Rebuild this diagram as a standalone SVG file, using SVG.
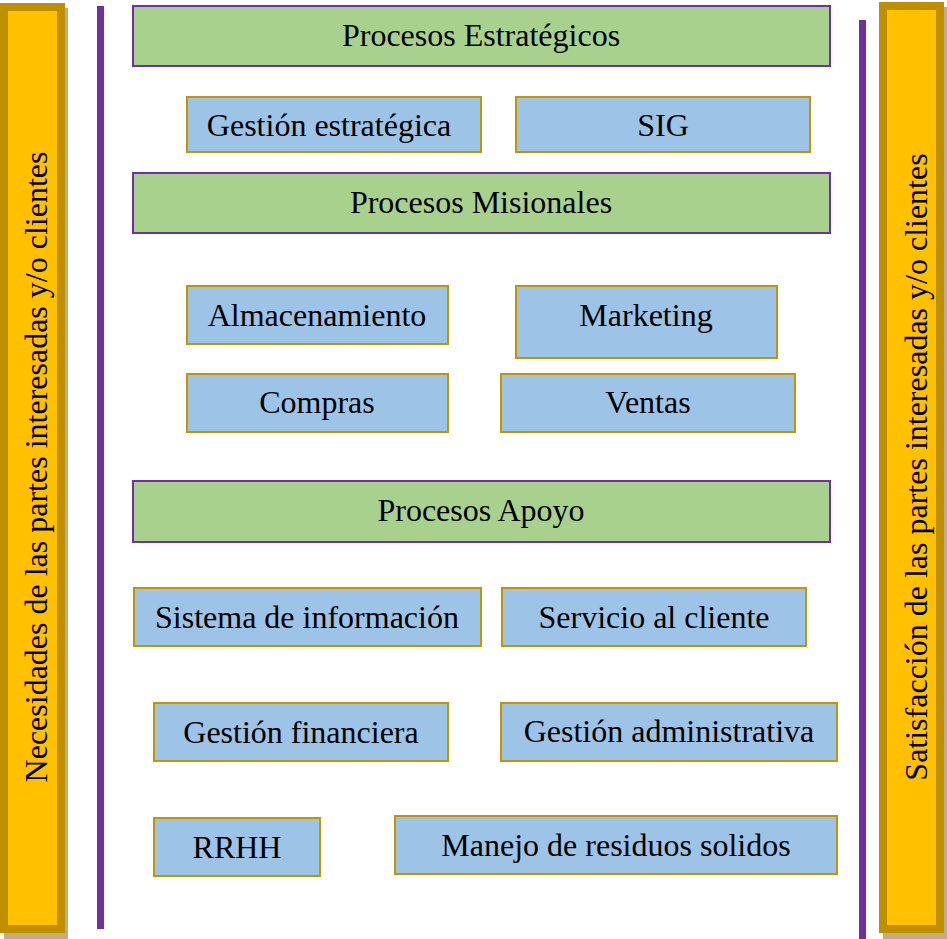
<svg xmlns="http://www.w3.org/2000/svg" width="947" height="939" viewBox="0 0 947 939">
<style>
  .bar { fill: #FFC000; stroke: #BF8F00; stroke-width: 8; }
  .shadow { fill: #BFAE80; }
  .vline { fill: #7030A0; }
  .green { fill: #A9D18E; stroke: #7030A0; stroke-width: 2; }
  .blue { fill: #9DC3E6; stroke: #C39500; stroke-width: 2; }
  text { font-family: "Liberation Serif", "Times New Roman", serif; font-size: 32px; fill: #000; text-anchor: middle; }
</style>
<rect width="947" height="939" fill="#FFFFFF"/>

<g id="left-bar">
  <rect class="shadow" x="4" y="8" width="64" height="931"/>
  <rect class="bar" x="4" y="7" width="57" height="922"/>
  <text transform="translate(47,467) rotate(-90)">Necesidades de las partes interesadas y/o clientes</text>
</g>
<g id="right-bar">
  <rect class="shadow" x="883" y="7" width="64" height="932"/>
  <rect class="bar" x="883" y="6" width="57" height="923"/>
  <text transform="translate(927,467) rotate(-90)">Satisfacción de las partes interesadas y/o clientes</text>
</g>

<g id="connectors">
  <rect class="vline" x="97" y="6" width="7" height="923"/>
  <rect class="vline" x="859" y="20" width="7" height="919"/>
</g>

<g id="procesos-estrategicos">
  <rect class="green" x="133" y="6" width="697" height="60"/>
  <text x="481" y="46">Procesos Estratégicos</text>
</g>
<g id="gestion-estrategica">
  <rect class="blue" x="187" y="97" width="294" height="55"/>
  <text x="329" y="136">Gestión estratégica</text>
</g>
<g id="sig">
  <rect class="blue" x="516" y="97" width="294" height="55"/>
  <text x="663" y="136">SIG</text>
</g>
<g id="procesos-misionales">
  <rect class="green" x="133" y="173" width="697" height="60"/>
  <text x="481" y="213">Procesos Misionales</text>
</g>
<g id="almacenamiento">
  <rect class="blue" x="187" y="286" width="261" height="58"/>
  <text x="317" y="326">Almacenamiento</text>
</g>
<g id="marketing">
  <rect class="blue" x="516" y="286" width="261" height="72"/>
  <text x="646" y="326">Marketing</text>
</g>
<g id="compras">
  <rect class="blue" x="187" y="374" width="261" height="58"/>
  <text x="317" y="413">Compras</text>
</g>
<g id="ventas">
  <rect class="blue" x="501" y="374" width="294" height="58"/>
  <text x="648" y="413">Ventas</text>
</g>
<g id="procesos-apoyo">
  <rect class="green" x="133" y="481" width="697" height="61"/>
  <text x="481" y="521">Procesos Apoyo</text>
</g>
<g id="sistema-informacion">
  <rect class="blue" x="134" y="588" width="347" height="58"/>
  <text x="307" y="628">Sistema de información</text>
</g>
<g id="servicio-cliente">
  <rect class="blue" x="502" y="588" width="304" height="58"/>
  <text x="654" y="628">Servicio al cliente</text>
</g>
<g id="gestion-financiera">
  <rect class="blue" x="154" y="703" width="294" height="58"/>
  <text x="301" y="743">Gestión financiera</text>
</g>
<g id="gestion-administrativa">
  <rect class="blue" x="501" y="703" width="336" height="58"/>
  <text x="669" y="742">Gestión administrativa</text>
</g>
<g id="rrhh">
  <rect class="blue" x="154" y="818" width="166" height="58"/>
  <text x="237" y="858">RRHH</text>
</g>
<g id="manejo-residuos">
  <rect class="blue" x="395" y="816" width="442" height="58"/>
  <text x="616" y="856">Manejo de residuos solidos</text>
</g>
</svg>
